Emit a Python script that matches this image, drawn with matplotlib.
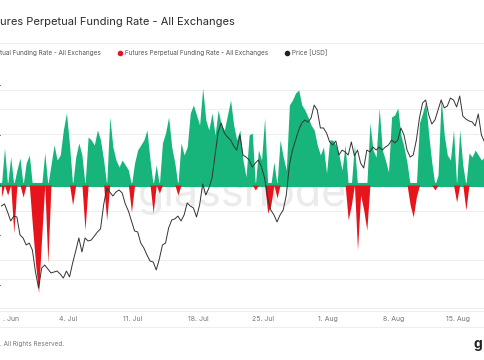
import numpy as np
import pandas as pd
import matplotlib
matplotlib.use("Agg")
import matplotlib.pyplot as plt
from matplotlib.lines import Line2D

plt.rcParams['font.family'] = ['Inter', 'DejaVu Sans']

# ---------------- data ----------------
start_time = "2022-06-26 20:00"
step = "8h"
funding_rate = [
    -0.0024, 0.0074, -0.0020, 0.0056, -0.0096, 0.0030, 0.0054, -0.0024, 0.0044, 0.0060,
    -0.0080, -0.0156, -0.0216, -0.0104, 0.0064, -0.0156, 0.0040, 0.0080, 0.0050, 0.0060,
    0.0110, 0.0144, 0.0080, -0.0040, 0.0056, 0.0084, 0.0060, -0.0090, 0.0096, 0.0090,
    0.0080, 0.0110, 0.0090, 0.0050, -0.0070, 0.0136, 0.0076, 0.0050, 0.0036, 0.0050,
    0.0040, 0.0030, -0.0054, 0.0044, 0.0070, 0.0080, 0.0090, 0.0110, 0.0050, -0.0056,
    0.0040, -0.0016, 0.0084, 0.0104, 0.0136, 0.0076, 0.0044, -0.0020, 0.0084, 0.0060,
    0.0076, 0.0144, 0.0160, 0.0140, 0.0120, 0.0194, 0.0130, 0.0110, 0.0144, 0.0100,
    0.0150, 0.0120, 0.0110, 0.0140, 0.0170, 0.0120, 0.0090, 0.0110, 0.0050, 0.0016,
    0.0100, 0.0104, -0.0010, 0.0070, 0.0050, 0.0134, -0.0056, -0.0040, 0.0046, -0.0026,
    0.0090, 0.0056, 0.0030, 0.0160, 0.0170, 0.0184, 0.0190, 0.0160, 0.0150, 0.0136,
    0.0120, 0.0110, 0.0080, 0.0060, 0.0076, 0.0024, 0.0090, 0.0090, 0.0080, 0.0060,
    0.0030, 0.0080, -0.0070, -0.0040, 0.0080, -0.0130, -0.0020, -0.0050, -0.0090, 0.0124,
    0.0070, 0.0056, 0.0154, 0.0070, 0.0050, 0.0026, 0.0136, 0.0140, 0.0154, 0.0100,
    0.0076, 0.0044, -0.0040, -0.0064, -0.0024, 0.0124, 0.0144, 0.0166, 0.0100, 0.0044,
    -0.0010, 0.0020, 0.0174, 0.0100, 0.0060, 0.0050, 0.0110, -0.0034, 0.0110, 0.0040,
    -0.0050, 0.0064, 0.0056, 0.0070, 0.0060, 0.0050, 0.0056,
]
price_usd = [
    1386, 1397, 1354, 1307, 1333, 1328, 1233, 1217, 1180, 1190,
    1153, 1037, 952, 1058, 1074, 1053, 1032, 1037, 1042, 1026,
    1005, 1042, 1011, 1085, 1148, 1217, 1143, 1217, 1201, 1206,
    1227, 1249, 1265, 1391, 1481, 1460, 1439, 1460, 1471, 1455,
    1397, 1360, 1307, 1254, 1249, 1190, 1164, 1127, 1095, 1090,
    1048, 1106, 1180, 1190, 1270, 1312, 1318, 1333, 1307, 1339,
    1402, 1386, 1376, 1328, 1391, 1503, 1444, 1481, 1534, 1656,
    1778, 1825, 1772, 1751, 1735, 1704, 1682, 1762, 1656, 1645,
    1630, 1592, 1613, 1630, 1592, 1534, 1428, 1365, 1339, 1302,
    1339, 1365, 1444, 1603, 1682, 1735, 1788, 1825, 1841, 1830,
    1852, 1920, 1894, 1799, 1799, 1772, 1725, 1709, 1730, 1656,
    1682, 1672, 1656, 1725, 1651, 1682, 1613, 1587, 1682, 1672,
    1698, 1682, 1698, 1682, 1698, 1709, 1735, 1720, 1735, 1799,
    1762, 1682, 1645, 1656, 1735, 1852, 1931, 1947, 1868, 1820,
    1841, 1894, 1947, 1905, 1915, 1957, 1947, 1910, 1968, 1862,
    1846, 1836, 1831, 1810, 1873, 1762, 1725,
]
tick_dates = ["2022-06-27", "2022-07-04", "2022-07-11", "2022-07-18",
              "2022-07-25", "2022-08-01", "2022-08-08", "2022-08-15"]
# the reference is cropped at the left edge: only the visible part of each text
tick_labels = [". Jun", "4. Jul", "11. Jul", "18. Jul",
               "25. Jul", "1. Aug", "8. Aug", "15. Aug"]
title_text = "ures Perpetual Funding Rate - All Exchanges"
legend_labels = ["tual Funding Rate - All Exchanges",
                 "Futures Perpetual Funding Rate - All Exchanges",
                 "Price [USD]"]
footer_text = ". All Rights Reserved."
logo_text = "g"

# ---------------- style ----------------
GREEN = "#17b47c"
RED = "#e8141c"
W, H = 485, 360

times = pd.date_range(start_time, periods=len(funding_rate), freq=step)
fr = np.array(funding_rate)
pr = np.array(price_usd)

fig = plt.figure(figsize=(W / 100, H / 100), dpi=100)
fig.patch.set_facecolor("white")

def fx(px):
    return px / W

def fy(py):
    return 1 - py / H

ax_bottom, ax_top = 311, 60
rect = [0, fy(ax_bottom), 1, (ax_bottom - ax_top) / H]

# grid axis (pixel based, behind everything)
gax = fig.add_axes(rect)
gax.set_ylim(ax_bottom, ax_top)
gax.set_xlim(0, 1)
gax.set_yticks([90, 109, 134, 211, 260, 279, 308])
gax.set_xticks([])
gax.tick_params(left=False, labelleft=False)
gax.grid(axis="y", color="#eeeeee", lw=0.7)
for s in gax.spines.values():
    s.set_visible(False)

ax = fig.add_axes(rect)
ax.patch.set_alpha(0)
x0 = pd.Timestamp("2022-06-26 16:20")
x1 = pd.Timestamp("2022-08-17 21:20")
ax.set_xlim(x0, x1)
ax.set_ylim(-(ax_bottom - 185) * 0.0002, (185 - ax_top) * 0.0002)
for s in ax.spines.values():
    s.set_visible(False)

ax.text(0.5, 0.42, "glassnode", transform=ax.transAxes, ha="center",
        va="baseline", fontsize=31, color="#ebebeb", zorder=0)

ax.fill_between(times, np.clip(fr, 0, None), 0, color=GREEN, lw=0, zorder=2)
ax.fill_between(times, np.clip(fr, None, 0), 0, color=RED, lw=0, zorder=2.5)
ax.axhline(0, color=GREEN, lw=3, zorder=1.5)

ax.set_xticks(pd.to_datetime(tick_dates))
ax.set_xticklabels(tick_labels)
ax.get_xticklabels()[0].set_ha("left")
ax.tick_params(axis="x", length=0, labelsize=5, labelcolor="#777777", pad=3.5)
ax.tick_params(axis="y", left=False, labelleft=False)

ax2 = ax.twinx()
ax2.patch.set_alpha(0)
ax2.set_ylim(1000 - (ax_bottom - 279) * 5.29, 1000 + (279 - ax_top) * 5.29)
ax2.plot(times, pr, color="#333333", lw=0.7, zorder=3)
ax2.tick_params(axis="y", right=False, labelright=False)
for s in ax2.spines.values():
    s.set_visible(False)

# separator lines
for py in (43, 311, 327):
    fig.add_artist(Line2D([0, 1], [fy(py), fy(py)], color="#eeeeee", lw=0.8))

# title
fig.text(fx(0.5), fy(22), title_text, ha="left", va="center", fontsize=8,
         color="#2a2a2a")

# legend
fig.text(fx(0.5), fy(52.5), legend_labels[0], ha="left", va="center",
         fontsize=4.6, color="#555555")
fig.add_artist(Line2D([fx(120)], [fy(52.5)], marker="o", ms=3, color=RED, lw=0))
fig.text(fx(125), fy(52.5), legend_labels[1], ha="left", va="center",
         fontsize=4.6, color="#555555")
fig.add_artist(Line2D([fx(287)], [fy(52.5)], marker="o", ms=3, color="#222222", lw=0))
fig.text(fx(292), fy(52.5), legend_labels[2], ha="left", va="center",
         fontsize=4.6, color="#555555")

# footer
fig.text(fx(0.5), fy(344), footer_text, ha="left", va="center", fontsize=4.6,
         color="#777777")
fig.text(fx(474), fy(344), logo_text, ha="left", va="center", fontsize=10,
         color="#222222", fontweight="bold")

fig.savefig("out.png", dpi=100)
